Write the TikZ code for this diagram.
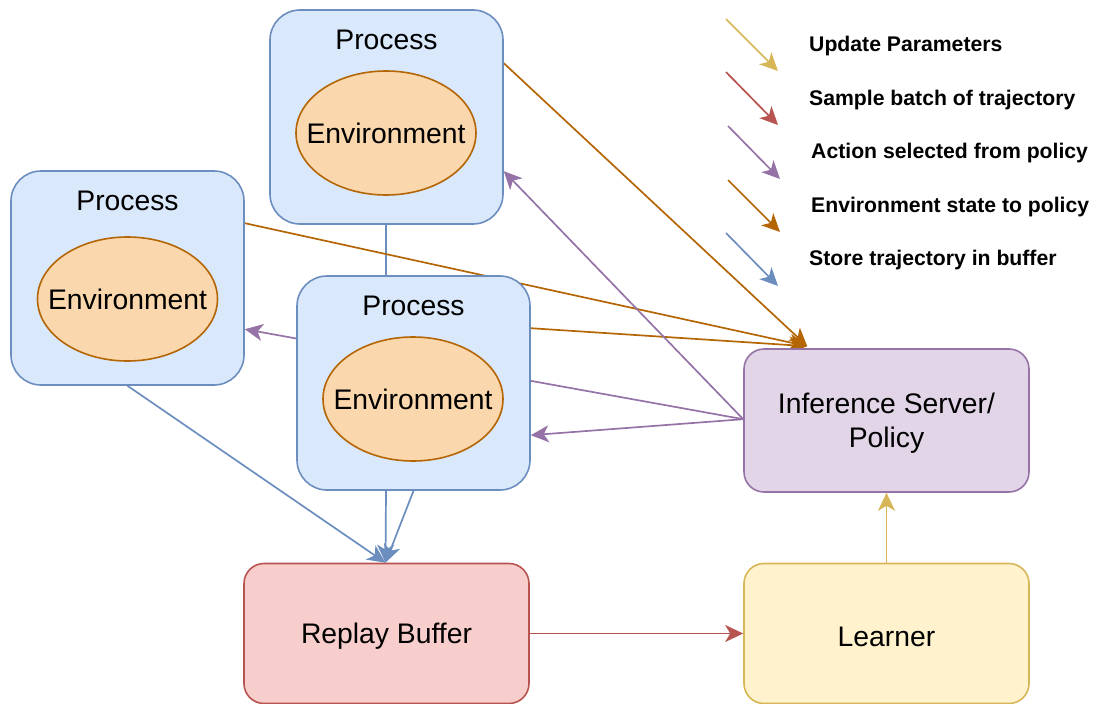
\documentclass[tikz,border=0pt]{standalone}
\usepackage{fontspec}
\setmainfont{Liberation Sans}
\usetikzlibrary{arrows.meta,calc,shapes.geometric}
\definecolor{procfill}{HTML}{DAE8FC}
\definecolor{procline}{HTML}{6C8EBF}
\definecolor{envfill}{HTML}{FAD7AC}
\definecolor{envline}{HTML}{B46504}
\definecolor{inffill}{HTML}{E1D5E7}
\definecolor{infline}{HTML}{9673A6}
\definecolor{repfill}{HTML}{F8CECC}
\definecolor{repline}{HTML}{B85450}
\definecolor{lrnfill}{HTML}{FFF2CC}
\definecolor{lrnline}{HTML}{D6B656}
\pgfdeclarelayer{background}
\pgfsetlayers{background,main}
\begin{document}
\begin{tikzpicture}[x=1pt,y=-1pt,
  big/.style={font=\fontsize{28.3}{34}\selectfont},
  leg/.style={font=\fontsize{21.2}{25}\selectfont\bfseries,anchor=west,inner sep=0},
  procbox/.style={draw=procline,fill=procfill,rounded corners=30pt,minimum width=233pt,minimum height=214pt,line width=1.6pt,inner sep=0},
  envell/.style={ellipse,draw=envline,fill=envfill,minimum width=180pt,minimum height=124pt,line width=1.6pt,inner sep=0},
  bigbox/.style={rounded corners=20pt,minimum width=285pt,line width=1.6pt,inner sep=0},
  tip/.style={-{Stealth[length=18pt,width=17pt,inset=5pt]}},
  edge/.style={line width=1.7pt}
]
\useasboundingbox (0,0) rectangle (1096,704);

% process boxes
\node[procbox] (p1) at (386.5,117) {};
\node[big] (p1t) at (386.5,39.5) {Process};
\node[envell] (e1) at (386,133) {};
\node[big] (e1t) at (e1.center) {Environment};

\node[procbox] (p2) at (127.5,278) {};
\node[big] (p2t) at (127.5,200.5) {Process};
\node[envell] (e2) at (127.5,299) {};
\node[big] (e2t) at (e2.center) {Environment};

\node[procbox] (p3) at (413.5,383) {};
\node[big] (p3t) at (413.5,305.5) {Process};
\node[envell] (e3) at (413,399) {};
\node[big] (e3t) at (e3.center) {Environment};

% other boxes
\node[bigbox,draw=infline,fill=inffill,minimum height=143pt] (inf) at (886.5,420.5) {};
\node[big,align=center] (inft) at (886.5,423.5) {Inference Server/\\Policy};
\node[bigbox,draw=repline,fill=repfill,minimum height=140pt] (rep) at (386.5,633.5) {};
\node[big] (rept) at (386.5,636.5) {Replay Buffer};
\node[bigbox,draw=lrnline,fill=lrnfill,minimum height=140pt] (lrn) at (886.5,633.5) {};
\node[big] (lrnt) at (886.5,636.5) {Learner};

\coordinate (tipO) at ($(inf.north west)+(64,-2)$);
\coordinate (tipB) at ($(rep.north)+(-1,0)$);
\coordinate (infL) at ($(inf.north west)+(0,71)$);

\begin{pgfonlayer}{background}
  % process link
  \draw[edge,procline] ($(p1.south)+(-0.5,0)$) -- ($(p3.north)+(-27.5,0)$);
  % environment state to policy
  \draw[edge,envline,tip] ($(p1.north east)+(0,54)$) -- (tipO);
  \draw[edge,envline,tip] ($(p2.north east)+(0,53)$) -- (tipO);
  \draw[edge,envline,tip] ($(p3.north east)+(0,53)$) -- (tipO);
  % actions
  \draw[edge,infline,tip] (infL) -- ($(p1.north east)+(0,162)$);
  \draw[edge,infline,tip] (infL) -- ($(p2.north east)+(0,159)$);
  \draw[edge,infline,tip] (infL) -- ($(p3.north east)+(0,160)$);
  % store trajectory
  \draw[edge,procline,tip] (p2.south) -- (tipB);
  \draw[edge,procline,tip] ($(p3.south)+(-27.5,0)$) -- (tipB);
  \draw[edge,procline,tip] ($(p3.south)+(0,0)$) -- (tipB);
\end{pgfonlayer}

% sample batch, update parameters
\draw[edge,repline,tip] (rep.east) -- (lrn.west);
\draw[edge,lrnline,tip] (lrn.north) -- (inf.south);

% legend
\coordinate (l1s) at (726,19);  \coordinate (l1e) at (778,71);
\coordinate (l2s) at (726,72);  \coordinate (l2e) at (778,125);
\coordinate (l3s) at (728,126); \coordinate (l3e) at (780,179);
\coordinate (l4s) at (728,180); \coordinate (l4e) at (780,232);
\coordinate (l5s) at (726,233); \coordinate (l5e) at (778,286);
\draw[edge,lrnline,tip] (l1s) -- (l1e);
\draw[edge,repline,tip] (l2s) -- (l2e);
\draw[edge,infline,tip] (l3s) -- (l3e);
\draw[edge,envline,tip] (l4s) -- (l4e);
\draw[edge,procline,tip] (l5s) -- (l5e);
\node[leg] (t1) at (809,46) {Update Parameters};
\node[leg] (t2) at (809,100) {Sample batch of trajectory};
\node[leg] (t3) at (811,153) {Action selected from policy};
\node[leg] (t4) at (811,207) {Environment state to policy};
\node[leg] (t5) at (809,260) {Store trajectory in buffer};
\end{tikzpicture}
\end{document}
